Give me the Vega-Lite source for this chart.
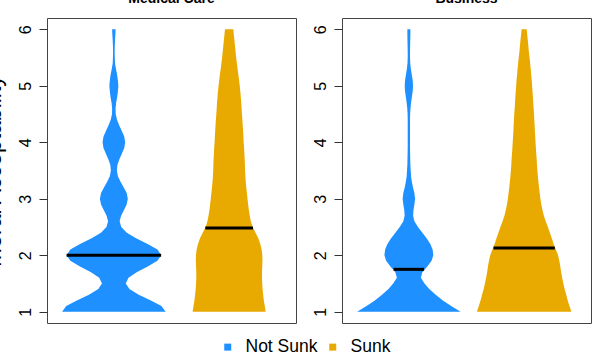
{
  "$schema": "https://vega.github.io/schema/vega-lite/v6.json",
  "padding": {"top": -9, "left": -19, "right": 0, "bottom": 0},
  "background": "white",
  "datasets": {
    "v": [
      {"panel":"Medical Care","group":"Not Sunk","y":1.0,"lo":0.551,"hi":1.449},
      {"panel":"Medical Care","group":"Not Sunk","y":1.1,"lo":0.587,"hi":1.413},
      {"panel":"Medical Care","group":"Not Sunk","y":1.2,"lo":0.679,"hi":1.321},
      {"panel":"Medical Care","group":"Not Sunk","y":1.3,"lo":0.784,"hi":1.216},
      {"panel":"Medical Care","group":"Not Sunk","y":1.4,"lo":0.865,"hi":1.135},
      {"panel":"Medical Care","group":"Not Sunk","y":1.5,"lo":0.897,"hi":1.103},
      {"panel":"Medical Care","group":"Not Sunk","y":1.6,"lo":0.873,"hi":1.127},
      {"panel":"Medical Care","group":"Not Sunk","y":1.7,"lo":0.802,"hi":1.198},
      {"panel":"Medical Care","group":"Not Sunk","y":1.8,"lo":0.706,"hi":1.294},
      {"panel":"Medical Care","group":"Not Sunk","y":1.9,"lo":0.622,"hi":1.378},
      {"panel":"Medical Care","group":"Not Sunk","y":2.0,"lo":0.590,"hi":1.410},
      {"panel":"Medical Care","group":"Not Sunk","y":2.1,"lo":0.622,"hi":1.378},
      {"panel":"Medical Care","group":"Not Sunk","y":2.2,"lo":0.707,"hi":1.293},
      {"panel":"Medical Care","group":"Not Sunk","y":2.3,"lo":0.807,"hi":1.193},
      {"panel":"Medical Care","group":"Not Sunk","y":2.4,"lo":0.888,"hi":1.112},
      {"panel":"Medical Care","group":"Not Sunk","y":2.5,"lo":0.936,"hi":1.064},
      {"panel":"Medical Care","group":"Not Sunk","y":2.6,"lo":0.950,"hi":1.050},
      {"panel":"Medical Care","group":"Not Sunk","y":2.7,"lo":0.937,"hi":1.063},
      {"panel":"Medical Care","group":"Not Sunk","y":2.8,"lo":0.912,"hi":1.088},
      {"panel":"Medical Care","group":"Not Sunk","y":2.9,"lo":0.889,"hi":1.111},
      {"panel":"Medical Care","group":"Not Sunk","y":3.0,"lo":0.879,"hi":1.121},
      {"panel":"Medical Care","group":"Not Sunk","y":3.1,"lo":0.889,"hi":1.111},
      {"panel":"Medical Care","group":"Not Sunk","y":3.2,"lo":0.914,"hi":1.086},
      {"panel":"Medical Care","group":"Not Sunk","y":3.3,"lo":0.942,"hi":1.058},
      {"panel":"Medical Care","group":"Not Sunk","y":3.4,"lo":0.965,"hi":1.035},
      {"panel":"Medical Care","group":"Not Sunk","y":3.5,"lo":0.974,"hi":1.026},
      {"panel":"Medical Care","group":"Not Sunk","y":3.6,"lo":0.969,"hi":1.031},
      {"panel":"Medical Care","group":"Not Sunk","y":3.7,"lo":0.952,"hi":1.048},
      {"panel":"Medical Care","group":"Not Sunk","y":3.8,"lo":0.930,"hi":1.070},
      {"panel":"Medical Care","group":"Not Sunk","y":3.9,"lo":0.910,"hi":1.090},
      {"panel":"Medical Care","group":"Not Sunk","y":4.0,"lo":0.902,"hi":1.098},
      {"panel":"Medical Care","group":"Not Sunk","y":4.1,"lo":0.910,"hi":1.090},
      {"panel":"Medical Care","group":"Not Sunk","y":4.2,"lo":0.931,"hi":1.069},
      {"panel":"Medical Care","group":"Not Sunk","y":4.3,"lo":0.954,"hi":1.046},
      {"panel":"Medical Care","group":"Not Sunk","y":4.4,"lo":0.973,"hi":1.027},
      {"panel":"Medical Care","group":"Not Sunk","y":4.5,"lo":0.984,"hi":1.016},
      {"panel":"Medical Care","group":"Not Sunk","y":4.6,"lo":0.985,"hi":1.015},
      {"panel":"Medical Care","group":"Not Sunk","y":4.7,"lo":0.980,"hi":1.020},
      {"panel":"Medical Care","group":"Not Sunk","y":4.8,"lo":0.971,"hi":1.029},
      {"panel":"Medical Care","group":"Not Sunk","y":4.9,"lo":0.965,"hi":1.035},
      {"panel":"Medical Care","group":"Not Sunk","y":5.0,"lo":0.961,"hi":1.039},
      {"panel":"Medical Care","group":"Not Sunk","y":5.1,"lo":0.965,"hi":1.035},
      {"panel":"Medical Care","group":"Not Sunk","y":5.2,"lo":0.972,"hi":1.028},
      {"panel":"Medical Care","group":"Not Sunk","y":5.3,"lo":0.982,"hi":1.018},
      {"panel":"Medical Care","group":"Not Sunk","y":5.4,"lo":0.990,"hi":1.010},
      {"panel":"Medical Care","group":"Not Sunk","y":5.5,"lo":0.992,"hi":1.008},
      {"panel":"Medical Care","group":"Not Sunk","y":5.6,"lo":0.993,"hi":1.007},
      {"panel":"Medical Care","group":"Not Sunk","y":5.7,"lo":0.992,"hi":1.008},
      {"panel":"Medical Care","group":"Not Sunk","y":5.8,"lo":0.990,"hi":1.010},
      {"panel":"Medical Care","group":"Not Sunk","y":5.9,"lo":0.987,"hi":1.013},
      {"panel":"Medical Care","group":"Not Sunk","y":6.0,"lo":0.985,"hi":1.015},

      {"panel":"Medical Care","group":"Sunk","y":1.0,"lo":1.683,"hi":2.317},
      {"panel":"Medical Care","group":"Sunk","y":1.1,"lo":1.691,"hi":2.309},
      {"panel":"Medical Care","group":"Sunk","y":1.2,"lo":1.699,"hi":2.301},
      {"panel":"Medical Care","group":"Sunk","y":1.3,"lo":1.705,"hi":2.295},
      {"panel":"Medical Care","group":"Sunk","y":1.4,"lo":1.710,"hi":2.290},
      {"panel":"Medical Care","group":"Sunk","y":1.5,"lo":1.713,"hi":2.287},
      {"panel":"Medical Care","group":"Sunk","y":1.6,"lo":1.715,"hi":2.285},
      {"panel":"Medical Care","group":"Sunk","y":1.7,"lo":1.715,"hi":2.285},
      {"panel":"Medical Care","group":"Sunk","y":1.8,"lo":1.713,"hi":2.287},
      {"panel":"Medical Care","group":"Sunk","y":1.9,"lo":1.711,"hi":2.289},
      {"panel":"Medical Care","group":"Sunk","y":2.0,"lo":1.712,"hi":2.288},
      {"panel":"Medical Care","group":"Sunk","y":2.1,"lo":1.718,"hi":2.282},
      {"panel":"Medical Care","group":"Sunk","y":2.2,"lo":1.730,"hi":2.270},
      {"panel":"Medical Care","group":"Sunk","y":2.3,"lo":1.747,"hi":2.253},
      {"panel":"Medical Care","group":"Sunk","y":2.4,"lo":1.771,"hi":2.229},
      {"panel":"Medical Care","group":"Sunk","y":2.5,"lo":1.796,"hi":2.204},
      {"panel":"Medical Care","group":"Sunk","y":2.6,"lo":1.812,"hi":2.188},
      {"panel":"Medical Care","group":"Sunk","y":2.7,"lo":1.821,"hi":2.179},
      {"panel":"Medical Care","group":"Sunk","y":2.8,"lo":1.829,"hi":2.171},
      {"panel":"Medical Care","group":"Sunk","y":2.9,"lo":1.835,"hi":2.165},
      {"panel":"Medical Care","group":"Sunk","y":3.0,"lo":1.841,"hi":2.159},
      {"panel":"Medical Care","group":"Sunk","y":3.1,"lo":1.846,"hi":2.154},
      {"panel":"Medical Care","group":"Sunk","y":3.2,"lo":1.851,"hi":2.149},
      {"panel":"Medical Care","group":"Sunk","y":3.3,"lo":1.856,"hi":2.144},
      {"panel":"Medical Care","group":"Sunk","y":3.4,"lo":1.859,"hi":2.141},
      {"panel":"Medical Care","group":"Sunk","y":3.5,"lo":1.862,"hi":2.138},
      {"panel":"Medical Care","group":"Sunk","y":3.6,"lo":1.863,"hi":2.137},
      {"panel":"Medical Care","group":"Sunk","y":3.7,"lo":1.865,"hi":2.135},
      {"panel":"Medical Care","group":"Sunk","y":3.8,"lo":1.868,"hi":2.132},
      {"panel":"Medical Care","group":"Sunk","y":3.9,"lo":1.870,"hi":2.130},
      {"panel":"Medical Care","group":"Sunk","y":4.0,"lo":1.874,"hi":2.126},
      {"panel":"Medical Care","group":"Sunk","y":4.1,"lo":1.876,"hi":2.124},
      {"panel":"Medical Care","group":"Sunk","y":4.2,"lo":1.879,"hi":2.121},
      {"panel":"Medical Care","group":"Sunk","y":4.3,"lo":1.882,"hi":2.118},
      {"panel":"Medical Care","group":"Sunk","y":4.4,"lo":1.885,"hi":2.115},
      {"panel":"Medical Care","group":"Sunk","y":4.5,"lo":1.889,"hi":2.111},
      {"panel":"Medical Care","group":"Sunk","y":4.6,"lo":1.892,"hi":2.108},
      {"panel":"Medical Care","group":"Sunk","y":4.7,"lo":1.895,"hi":2.105},
      {"panel":"Medical Care","group":"Sunk","y":4.8,"lo":1.899,"hi":2.101},
      {"panel":"Medical Care","group":"Sunk","y":4.9,"lo":1.903,"hi":2.097},
      {"panel":"Medical Care","group":"Sunk","y":5.0,"lo":1.908,"hi":2.092},
      {"panel":"Medical Care","group":"Sunk","y":5.1,"lo":1.914,"hi":2.086},
      {"panel":"Medical Care","group":"Sunk","y":5.2,"lo":1.920,"hi":2.080},
      {"panel":"Medical Care","group":"Sunk","y":5.3,"lo":1.927,"hi":2.073},
      {"panel":"Medical Care","group":"Sunk","y":5.4,"lo":1.933,"hi":2.067},
      {"panel":"Medical Care","group":"Sunk","y":5.5,"lo":1.939,"hi":2.061},
      {"panel":"Medical Care","group":"Sunk","y":5.6,"lo":1.944,"hi":2.056},
      {"panel":"Medical Care","group":"Sunk","y":5.7,"lo":1.949,"hi":2.051},
      {"panel":"Medical Care","group":"Sunk","y":5.8,"lo":1.954,"hi":2.046},
      {"panel":"Medical Care","group":"Sunk","y":5.9,"lo":1.959,"hi":2.041},
      {"panel":"Medical Care","group":"Sunk","y":6.0,"lo":1.964,"hi":2.036},

      {"panel":"Business","group":"Not Sunk","y":1.0,"lo":0.551,"hi":1.449},
      {"panel":"Business","group":"Not Sunk","y":1.1,"lo":0.633,"hi":1.367},
      {"panel":"Business","group":"Not Sunk","y":1.2,"lo":0.705,"hi":1.295},
      {"panel":"Business","group":"Not Sunk","y":1.3,"lo":0.767,"hi":1.233},
      {"panel":"Business","group":"Not Sunk","y":1.4,"lo":0.823,"hi":1.177},
      {"panel":"Business","group":"Not Sunk","y":1.5,"lo":0.864,"hi":1.136},
      {"panel":"Business","group":"Not Sunk","y":1.6,"lo":0.896,"hi":1.104},
      {"panel":"Business","group":"Not Sunk","y":1.7,"lo":0.883,"hi":1.117},
      {"panel":"Business","group":"Not Sunk","y":1.8,"lo":0.840,"hi":1.160},
      {"panel":"Business","group":"Not Sunk","y":1.9,"lo":0.803,"hi":1.197},
      {"panel":"Business","group":"Not Sunk","y":2.0,"lo":0.788,"hi":1.212},
      {"panel":"Business","group":"Not Sunk","y":2.1,"lo":0.794,"hi":1.206},
      {"panel":"Business","group":"Not Sunk","y":2.2,"lo":0.814,"hi":1.186},
      {"panel":"Business","group":"Not Sunk","y":2.3,"lo":0.846,"hi":1.154},
      {"panel":"Business","group":"Not Sunk","y":2.4,"lo":0.883,"hi":1.117},
      {"panel":"Business","group":"Not Sunk","y":2.5,"lo":0.921,"hi":1.079},
      {"panel":"Business","group":"Not Sunk","y":2.6,"lo":0.952,"hi":1.048},
      {"panel":"Business","group":"Not Sunk","y":2.7,"lo":0.963,"hi":1.037},
      {"panel":"Business","group":"Not Sunk","y":2.8,"lo":0.960,"hi":1.040},
      {"panel":"Business","group":"Not Sunk","y":2.9,"lo":0.952,"hi":1.048},
      {"panel":"Business","group":"Not Sunk","y":3.0,"lo":0.946,"hi":1.054},
      {"panel":"Business","group":"Not Sunk","y":3.1,"lo":0.952,"hi":1.048},
      {"panel":"Business","group":"Not Sunk","y":3.2,"lo":0.964,"hi":1.036},
      {"panel":"Business","group":"Not Sunk","y":3.3,"lo":0.974,"hi":1.026},
      {"panel":"Business","group":"Not Sunk","y":3.4,"lo":0.981,"hi":1.019},
      {"panel":"Business","group":"Not Sunk","y":3.5,"lo":0.984,"hi":1.016},
      {"panel":"Business","group":"Not Sunk","y":3.6,"lo":0.987,"hi":1.013},
      {"panel":"Business","group":"Not Sunk","y":3.7,"lo":0.988,"hi":1.012},
      {"panel":"Business","group":"Not Sunk","y":3.8,"lo":0.989,"hi":1.011},
      {"panel":"Business","group":"Not Sunk","y":3.9,"lo":0.990,"hi":1.010},
      {"panel":"Business","group":"Not Sunk","y":4.0,"lo":0.990,"hi":1.010},
      {"panel":"Business","group":"Not Sunk","y":4.1,"lo":0.990,"hi":1.010},
      {"panel":"Business","group":"Not Sunk","y":4.2,"lo":0.990,"hi":1.010},
      {"panel":"Business","group":"Not Sunk","y":4.3,"lo":0.990,"hi":1.010},
      {"panel":"Business","group":"Not Sunk","y":4.4,"lo":0.990,"hi":1.010},
      {"panel":"Business","group":"Not Sunk","y":4.5,"lo":0.989,"hi":1.011},
      {"panel":"Business","group":"Not Sunk","y":4.6,"lo":0.986,"hi":1.014},
      {"panel":"Business","group":"Not Sunk","y":4.7,"lo":0.981,"hi":1.019},
      {"panel":"Business","group":"Not Sunk","y":4.8,"lo":0.974,"hi":1.026},
      {"panel":"Business","group":"Not Sunk","y":4.9,"lo":0.967,"hi":1.033},
      {"panel":"Business","group":"Not Sunk","y":5.0,"lo":0.964,"hi":1.036},
      {"panel":"Business","group":"Not Sunk","y":5.1,"lo":0.967,"hi":1.033},
      {"panel":"Business","group":"Not Sunk","y":5.2,"lo":0.975,"hi":1.025},
      {"panel":"Business","group":"Not Sunk","y":5.3,"lo":0.983,"hi":1.017},
      {"panel":"Business","group":"Not Sunk","y":5.4,"lo":0.988,"hi":1.012},
      {"panel":"Business","group":"Not Sunk","y":5.5,"lo":0.990,"hi":1.010},
      {"panel":"Business","group":"Not Sunk","y":5.6,"lo":0.990,"hi":1.010},
      {"panel":"Business","group":"Not Sunk","y":5.7,"lo":0.989,"hi":1.011},
      {"panel":"Business","group":"Not Sunk","y":5.8,"lo":0.988,"hi":1.012},
      {"panel":"Business","group":"Not Sunk","y":5.9,"lo":0.987,"hi":1.013},
      {"panel":"Business","group":"Not Sunk","y":6.0,"lo":0.987,"hi":1.013},

      {"panel":"Business","group":"Sunk","y":1.0,"lo":1.590,"hi":2.410},
      {"panel":"Business","group":"Sunk","y":1.1,"lo":1.607,"hi":2.393},
      {"panel":"Business","group":"Sunk","y":1.2,"lo":1.622,"hi":2.378},
      {"panel":"Business","group":"Sunk","y":1.3,"lo":1.635,"hi":2.365},
      {"panel":"Business","group":"Sunk","y":1.4,"lo":1.649,"hi":2.351},
      {"panel":"Business","group":"Sunk","y":1.5,"lo":1.660,"hi":2.340},
      {"panel":"Business","group":"Sunk","y":1.6,"lo":1.670,"hi":2.330},
      {"panel":"Business","group":"Sunk","y":1.7,"lo":1.679,"hi":2.321},
      {"panel":"Business","group":"Sunk","y":1.8,"lo":1.686,"hi":2.314},
      {"panel":"Business","group":"Sunk","y":1.9,"lo":1.695,"hi":2.305},
      {"panel":"Business","group":"Sunk","y":2.0,"lo":1.706,"hi":2.294},
      {"panel":"Business","group":"Sunk","y":2.1,"lo":1.725,"hi":2.275},
      {"panel":"Business","group":"Sunk","y":2.2,"lo":1.744,"hi":2.256},
      {"panel":"Business","group":"Sunk","y":2.3,"lo":1.760,"hi":2.240},
      {"panel":"Business","group":"Sunk","y":2.4,"lo":1.777,"hi":2.223},
      {"panel":"Business","group":"Sunk","y":2.5,"lo":1.794,"hi":2.206},
      {"panel":"Business","group":"Sunk","y":2.6,"lo":1.813,"hi":2.187},
      {"panel":"Business","group":"Sunk","y":2.7,"lo":1.829,"hi":2.171},
      {"panel":"Business","group":"Sunk","y":2.8,"lo":1.841,"hi":2.159},
      {"panel":"Business","group":"Sunk","y":2.9,"lo":1.851,"hi":2.149},
      {"panel":"Business","group":"Sunk","y":3.0,"lo":1.859,"hi":2.141},
      {"panel":"Business","group":"Sunk","y":3.1,"lo":1.865,"hi":2.135},
      {"panel":"Business","group":"Sunk","y":3.2,"lo":1.871,"hi":2.129},
      {"panel":"Business","group":"Sunk","y":3.3,"lo":1.876,"hi":2.124},
      {"panel":"Business","group":"Sunk","y":3.4,"lo":1.881,"hi":2.119},
      {"panel":"Business","group":"Sunk","y":3.5,"lo":1.885,"hi":2.115},
      {"panel":"Business","group":"Sunk","y":3.6,"lo":1.889,"hi":2.111},
      {"panel":"Business","group":"Sunk","y":3.7,"lo":1.891,"hi":2.109},
      {"panel":"Business","group":"Sunk","y":3.8,"lo":1.895,"hi":2.105},
      {"panel":"Business","group":"Sunk","y":3.9,"lo":1.898,"hi":2.102},
      {"panel":"Business","group":"Sunk","y":4.0,"lo":1.901,"hi":2.099},
      {"panel":"Business","group":"Sunk","y":4.1,"lo":1.904,"hi":2.096},
      {"panel":"Business","group":"Sunk","y":4.2,"lo":1.907,"hi":2.093},
      {"panel":"Business","group":"Sunk","y":4.3,"lo":1.909,"hi":2.091},
      {"panel":"Business","group":"Sunk","y":4.4,"lo":1.912,"hi":2.088},
      {"panel":"Business","group":"Sunk","y":4.5,"lo":1.914,"hi":2.086},
      {"panel":"Business","group":"Sunk","y":4.6,"lo":1.918,"hi":2.082},
      {"panel":"Business","group":"Sunk","y":4.7,"lo":1.921,"hi":2.079},
      {"panel":"Business","group":"Sunk","y":4.8,"lo":1.924,"hi":2.076},
      {"panel":"Business","group":"Sunk","y":4.9,"lo":1.927,"hi":2.073},
      {"panel":"Business","group":"Sunk","y":5.0,"lo":1.931,"hi":2.069},
      {"panel":"Business","group":"Sunk","y":5.1,"lo":1.934,"hi":2.066},
      {"panel":"Business","group":"Sunk","y":5.2,"lo":1.939,"hi":2.061},
      {"panel":"Business","group":"Sunk","y":5.3,"lo":1.943,"hi":2.057},
      {"panel":"Business","group":"Sunk","y":5.4,"lo":1.948,"hi":2.052},
      {"panel":"Business","group":"Sunk","y":5.5,"lo":1.953,"hi":2.047},
      {"panel":"Business","group":"Sunk","y":5.6,"lo":1.959,"hi":2.041},
      {"panel":"Business","group":"Sunk","y":5.7,"lo":1.963,"hi":2.037},
      {"panel":"Business","group":"Sunk","y":5.8,"lo":1.968,"hi":2.032},
      {"panel":"Business","group":"Sunk","y":5.9,"lo":1.973,"hi":2.027},
      {"panel":"Business","group":"Sunk","y":6.0,"lo":1.978,"hi":2.022}
    ],
    "m": [
      {"panel":"Medical Care","group":"Not Sunk","median":2.0,"lo":0.590,"hi":1.410},
      {"panel":"Medical Care","group":"Sunk","median":2.48,"lo":1.793,"hi":2.207},
      {"panel":"Business","group":"Not Sunk","median":1.75,"lo":0.868,"hi":1.132},
      {"panel":"Business","group":"Sunk","median":2.13,"lo":1.734,"hi":2.266}
    ]
  },
  "spacing": 14,
  "hconcat": [
    {
      "width": 249,
      "height": 305,
      "title": {"text": "Medical Care"},
      "layer": [
        {
          "data": {"name": "v"},
          "transform": [{"filter": {"field": "panel", "equal": "Medical Care"}}],
          "mark": {"type": "area", "orient": "horizontal"},
          "encoding": {
            "y": {"field": "y", "type": "quantitative", "scale": {"domain": [0.8, 6.2], "nice": false, "zero": false}, "axis": {"values": [1, 2, 3, 4, 5, 6], "title": "Moral Acceptability"}},
            "x": {"field": "lo", "type": "quantitative", "scale": {"domain": [0.42, 2.58], "nice": false, "zero": false}, "axis": null},
            "x2": {"field": "hi"},
            "color": {"field": "group", "type": "nominal", "scale": {"domain": ["Not Sunk", "Sunk"], "range": ["#1E90FF", "#E8A900"]}, "legend": {"title": null, "orient": "none", "legendX": 172, "legendY": 320, "direction": "horizontal", "symbolType": "square", "symbolSize": 49, "symbolStrokeWidth": 0, "labelFontSize": 17.5, "labelOffset": 9, "columnPadding": 6}}
          }
        },
        {
          "data": {"name": "m"},
          "transform": [{"filter": {"field": "panel", "equal": "Medical Care"}}],
          "mark": {"type": "rule", "color": "black", "strokeWidth": 3, "strokeCap": "butt"},
          "encoding": {
            "y": {"field": "median", "type": "quantitative", "axis": {"values": [1, 2, 3, 4, 5, 6], "title": "Moral Acceptability"}},
            "x": {"field": "lo", "type": "quantitative"},
            "x2": {"field": "hi"}
          }
        }
      ]
    },
    {
      "width": 249,
      "height": 305,
      "title": {"text": "Business"},
      "layer": [
        {
          "data": {"name": "v"},
          "transform": [{"filter": {"field": "panel", "equal": "Business"}}],
          "mark": {"type": "area", "orient": "horizontal"},
          "encoding": {
            "y": {"field": "y", "type": "quantitative", "scale": {"domain": [0.8, 6.2], "nice": false, "zero": false}, "axis": {"values": [1, 2, 3, 4, 5, 6], "title": null}},
            "x": {"field": "lo", "type": "quantitative", "scale": {"domain": [0.42, 2.58], "nice": false, "zero": false}, "axis": null},
            "x2": {"field": "hi"},
            "color": {"field": "group", "type": "nominal", "scale": {"domain": ["Not Sunk", "Sunk"], "range": ["#1E90FF", "#E8A900"]}, "legend": {"title": null, "orient": "none", "legendX": 172, "legendY": 320, "direction": "horizontal", "symbolType": "square", "symbolSize": 49, "symbolStrokeWidth": 0, "labelFontSize": 17.5, "labelOffset": 9, "columnPadding": 6}}
          }
        },
        {
          "data": {"name": "m"},
          "transform": [{"filter": {"field": "panel", "equal": "Business"}}],
          "mark": {"type": "rule", "color": "black", "strokeWidth": 3, "strokeCap": "butt"},
          "encoding": {
            "y": {"field": "median", "type": "quantitative", "axis": {"values": [1, 2, 3, 4, 5, 6], "title": null}},
            "x": {"field": "lo", "type": "quantitative"},
            "x2": {"field": "hi"}
          }
        }
      ]
    }
  ],
  "config": {
    "font": "Liberation Sans",
    "view": {"stroke": "#444444", "strokeWidth": 1},
    "title": {"fontSize": 14, "fontWeight": "bold", "offset": 12, "baseline": "alphabetic", "color": "black", "anchor": "middle"},
    "axis": {"domain": false, "grid": false, "ticks": true, "tickSize": 8, "tickColor": "#333333", "labelFontSize": 16, "labelAngle": -90, "labelAlign": "center", "labelBaseline": "bottom", "labelPadding": 6, "labelColor": "black", "titleFontSize": 23, "titleFontWeight": "normal", "titleColor": "black", "titlePadding": 12},
    "legend": {"labelColor": "black"}
  }
}
